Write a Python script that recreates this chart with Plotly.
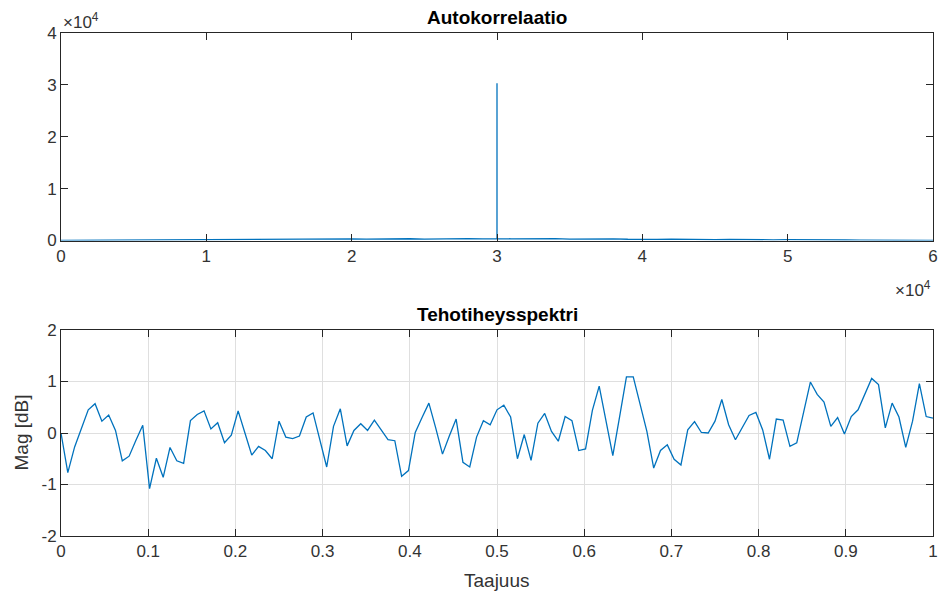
import plotly.graph_objects as go

# ---------------- data ----------------
# Autocorrelation (lag index, value)
acf_lag = [0, 1000, 2000, 3000, 4000, 5000, 6000, 7000, 8000, 9000,
           10000, 11000, 12000, 13000, 14000, 15000, 16000, 17000, 18000, 19000,
           20000, 21000, 22000, 23000, 24000, 25000, 26000, 27000, 28000, 29000,
           29999, 30000, 30001,
           31000, 32000, 33000, 34000, 35000, 36000, 37000, 38000, 39000, 40000,
           41000, 42000, 43000, 44000, 45000, 46000, 47000, 48000, 49000, 50000,
           51000, 52000, 53000, 54000, 55000, 56000, 57000, 58000, 59000, 60000]
acf_val = [0, 20, 40, 30, 60, 50, 120, 80, 140, 100,
           180, 120, 200, 150, 220, 180, 260, 200, 280, 230,
           300, 250, 320, 260, 340, 280, 350, 300, 360, 320,
           380, 30300, 350,
           330, 360, 290, 350, 280, 330, 260, 320, 240, 300,
           220, 280, 200, 240, 170, 210, 150, 190, 130, 160,
           110, 130, 90, 100, 60, 70, 40, 40, 20, 0]

# Power spectral density (normalised frequency 0..1, 129 bins)
psd_mag = [0.0, -0.77, -0.27, 0.08, 0.45, 0.57, 0.23, 0.35, 0.05, -0.54,
           -0.45, -0.14, 0.15, -1.08, -0.49, -0.86, -0.28, -0.54, -0.59, 0.24,
           0.36, 0.43, 0.08, 0.2, -0.19, -0.04, 0.43, 0.0, -0.43, -0.26,
           -0.34, -0.5, 0.23, -0.08, -0.11, -0.06, 0.31, 0.39, -0.15, -0.66,
           0.13, 0.47, -0.25, 0.05, 0.18, 0.05, 0.25, 0.06, -0.13, -0.15,
           -0.84, -0.73, 0.01, 0.3, 0.58, 0.1, -0.41, -0.06, 0.27, -0.57,
           -0.66, -0.08, 0.24, 0.16, 0.45, 0.54, 0.31, -0.5, -0.03, -0.53,
           0.19, 0.38, 0.03, -0.16, 0.32, 0.24, -0.34, -0.31, 0.44, 0.91,
           0.26, -0.44, 0.32, 1.09, 1.09, 0.56, 0.03, -0.68, -0.34, -0.23,
           -0.51, -0.62, 0.06, 0.22, 0.01, 0.0, 0.23, 0.65, 0.16, -0.13,
           0.1, 0.34, 0.4, 0.06, -0.51, 0.27, 0.25, -0.26, -0.19, 0.42,
           0.99, 0.75, 0.6, 0.13, 0.3, -0.02, 0.32, 0.45, 0.75, 1.06,
           0.94, 0.1, 0.58, 0.31, -0.28, 0.23, 0.96, 0.32, 0.29]
psd_freq = [i / (len(psd_mag) - 1) for i in range(len(psd_mag))]

x1_ticks = [0, 10000, 20000, 30000, 40000, 50000, 60000]
x1_text = ["0", "1", "2", "3", "4", "5", "6"]
y1_ticks = [0, 10000, 20000, 30000, 40000]
y1_text = ["0", "1", "2", "3", "4"]
x2_ticks = [0, 0.1, 0.2, 0.3, 0.4, 0.5, 0.6, 0.7, 0.8, 0.9, 1]
x2_text = ["0", "0.1", "0.2", "0.3", "0.4", "0.5", "0.6", "0.7", "0.8", "0.9", "1"]
y2_ticks = [-2, -1, 0, 1, 2]
y2_text = ["-2", "-1", "0", "1", "2"]

# ---------------- figure ----------------
LINE = "#0072BD"
AX = "#262626"
FONT = "Liberation Sans, Arial, Helvetica, sans-serif"

fig = go.Figure()
fig.add_trace(go.Scatter(x=acf_lag, y=acf_val, mode="lines",
                         line=dict(color=LINE, width=1.3),
                         xaxis="x", yaxis="y", showlegend=False,
                         hoverinfo="skip"))
fig.add_trace(go.Scatter(x=psd_freq, y=psd_mag, mode="lines",
                         line=dict(color=LINE, width=1.3),
                         xaxis="x2", yaxis="y2", showlegend=False,
                         hoverinfo="skip"))

W, H = 943, 597
ML, MR, MT, MB = 61, 10, 33, 61
PH = H - MT - MB


def py(p):
    return (H - MB - p) / PH


def px(p):
    return (p - ML) / (W - ML - MR)


common = dict(showline=True, linecolor=AX, linewidth=1, mirror="ticks",
              ticks="inside", ticklen=7, tickcolor=AX, tickwidth=1,
              tickfont=dict(size=17, color="#333333", family=FONT),
              zeroline=False, automargin=False)

fig.update_layout(
    width=W, height=H,
    margin=dict(l=ML, r=MR, t=MT, b=MB, autoexpand=False),
    paper_bgcolor="white", plot_bgcolor="white",
    font=dict(family=FONT, color=AX),
    xaxis=dict(domain=[0, 1], range=[0, 60000], tickvals=x1_ticks,
               ticktext=x1_text, showgrid=False, anchor="y", **common),
    yaxis=dict(domain=[py(240.5), 1], range=[0, 40000], tickvals=y1_ticks,
               ticktext=y1_text, showgrid=False, anchor="x", **common),
    xaxis2=dict(domain=[0, 1], range=[0, 1], tickvals=x2_ticks,
                ticktext=x2_text, showgrid=True, gridcolor="#dfdfdf",
                gridwidth=1, anchor="y2", **common),
    yaxis2=dict(domain=[0, py(330)], range=[-2, 2], tickvals=y2_ticks,
                ticktext=y2_text, showgrid=True, gridcolor="#dfdfdf",
                gridwidth=1, anchor="x2", **common),
    annotations=[
        dict(text="<b>Autokorrelaatio</b>", x=0.5, y=py(17), xref="paper",
             yref="paper", xanchor="center", yanchor="middle",
             showarrow=False, font=dict(size=19, color="black", family=FONT)),
        dict(text="<b>Tehotiheysspektri</b>", x=0.5, y=py(314), xref="paper",
             yref="paper", xanchor="center", yanchor="middle",
             showarrow=False, font=dict(size=19, color="black", family=FONT)),
        dict(text="Taajuus", x=0.5, y=py(580), xref="paper", yref="paper",
             xanchor="center", yanchor="middle", showarrow=False,
             font=dict(size=19, color="#333333", family=FONT)),
        dict(text="Mag [dB]", x=px(21.5), y=py(433), xref="paper",
             yref="paper", xanchor="center", yanchor="middle", textangle=-90,
             showarrow=False, font=dict(size=19, color="#333333", family=FONT)),
        dict(text="\u00d710<sup>4</sup>", x=px(61), y=py(21), xref="paper",
             yref="paper", xanchor="left", yanchor="middle", showarrow=False,
             font=dict(size=17, color="#333333", family=FONT)),
        dict(text="\u00d710<sup>4</sup>", x=px(933), y=py(289), xref="paper",
             yref="paper", xanchor="right", yanchor="middle", showarrow=False,
             font=dict(size=17, color="#333333", family=FONT)),
    ],
)

fig.write_html("out.html")
